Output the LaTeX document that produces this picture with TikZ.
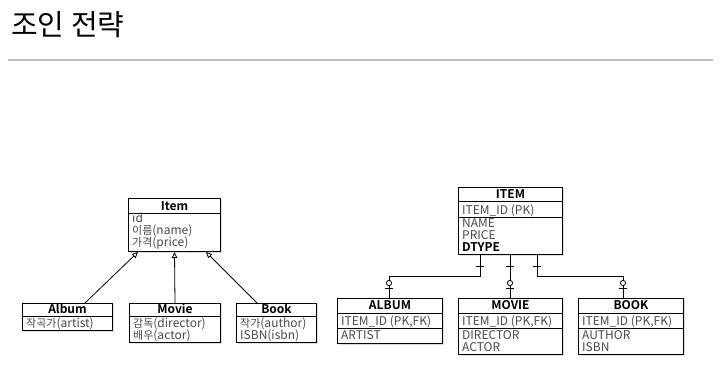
\documentclass[tikz,border=0pt]{standalone}
\usepackage{fontspec}
\setmainfont{Noto Sans CJK KR}[BoldFont={Noto Sans CJK KR Bold}]
\newcommand\kr[1]{{\fontsize{11}{12}\selectfont #1}}
\usetikzlibrary{arrows.meta,calc,shadows}
\definecolor{attrgray}{HTML}{4A4A4A}
\definecolor{rulegray}{HTML}{BDBDBD}
\tikzset{
  umlbox/.style={draw=black, line width=1pt, anchor=north west, inner sep=0pt, fill=white,
    drop shadow={shadow xshift=1.2pt, shadow yshift=-1.2pt, opacity=0.25}},
  hdr/.style={font=\bfseries\fontsize{12}{12}\selectfont, anchor=base, inner sep=0pt},
  attr/.style={font=\fontsize{12}{12}\selectfont, text=attrgray, anchor=base west, inner sep=0pt},
  attrb/.style={font=\bfseries\fontsize{12}{12}\selectfont, text=black, anchor=base west, inner sep=0pt},
  divl/.style={draw=black, line width=0.8pt},
  inh/.style={draw=black, line width=0.8pt, -{Triangle[open,length=6pt,width=5.5pt]}},
  rel/.style={draw=black, line width=0.8pt},
}
\begin{document}
\begin{tikzpicture}[x=1pt,y=-1pt]
\useasboundingbox (0,0) rectangle (721,389);

% title and rule
\node[anchor=base west, inner sep=0pt, font=\fontsize{29}{32}\selectfont] (title) at (11,35) {조인 전략};
\coordinate (ruleL) at (8,60);
\coordinate (ruleR) at (713,60);
\draw[rulegray, line width=1.2pt] (ruleL) -- (ruleR);

% ---------- left: class diagram ----------
\node[umlbox, minimum width=92pt, minimum height=53pt] (item) at (128,198) {};
\node[hdr] (itemh) at ($(item.north)+(0,12)$) {Item};
\draw[divl] ($(item.north west)+(0,15)$) -- ($(item.north east)+(0,15)$);
\node[attr] (item1) at ($(item.north west)+(4,24)$) {id};
\node[attr] (item2) at ($(item.north west)+(4,36)$) {\kr{이름}(name)};
\node[attr] (item3) at ($(item.north west)+(4,48)$) {\kr{가격}(price)};

\node[umlbox, minimum width=90pt, minimum height=27pt] (album) at (22,303) {};
\node[hdr] (albumh) at ($(album.north)+(0,10)$) {Album};
\draw[divl] ($(album.north west)+(0,13)$) -- ($(album.north east)+(0,13)$);
\node[attr] (album1) at ($(album.north west)+(4,24)$) {\kr{작곡가}(artist)};

\node[umlbox, minimum width=91pt, minimum height=39pt] (movie) at (129,303) {};
\node[hdr] (movieh) at ($(movie.north)+(0,10)$) {Movie};
\draw[divl] ($(movie.north west)+(0,13)$) -- ($(movie.north east)+(0,13)$);
\node[attr] (movie1) at ($(movie.north west)+(4,24)$) {\kr{감독}(director)};
\node[attr] (movie2) at ($(movie.north west)+(4,36)$) {\kr{배우}(actor)};

\node[umlbox, minimum width=80pt, minimum height=39pt] (book) at (236,303) {};
\node[hdr] (bookh) at ($(book.north)+(0,10)$) {Book};
\draw[divl] ($(book.north west)+(0,13)$) -- ($(book.north east)+(0,13)$);
\node[attr] (book1) at ($(book.north west)+(4,24)$) {\kr{작가}(author)};
\node[attr] (book2) at ($(book.north west)+(4,36)$) {ISBN(isbn)};

\draw[inh] ($(album.north west)+(63,0)$) -- ($(item.south west)+(10,0)$);
\draw[inh] (movie.north) -- (item.south);
\draw[inh] ($(book.north west)+(21,0)$) -- ($(item.south west)+(78,0)$);

% ---------- right: ER diagram ----------
\node[umlbox, minimum width=104pt, minimum height=67pt] (ITEM) at (458,187) {};
\node[hdr] (ITEMh) at ($(ITEM.north)+(0,11)$) {ITEM};
\draw[divl] ($(ITEM.north west)+(0,14)$) -- ($(ITEM.north east)+(0,14)$);
\node[attr] (ITEM1) at ($(ITEM.north west)+(4,27)$) {ITEM\_ID (PK)};
\draw[divl] ($(ITEM.north west)+(0,30)$) -- ($(ITEM.north east)+(0,30)$);
\node[attr] (ITEM2) at ($(ITEM.north west)+(4,40)$) {NAME};
\node[attr] (ITEM3) at ($(ITEM.north west)+(4,52)$) {PRICE};
\node[attrb] (ITEM4) at ($(ITEM.north west)+(4,64)$) {DTYPE};

\node[umlbox, minimum width=105pt, minimum height=45pt] (ALBUM) at (337,298) {};
\node[hdr] (ALBUMh) at ($(ALBUM.north)+(0,11)$) {ALBUM};
\draw[divl] ($(ALBUM.north west)+(0,15)$) -- ($(ALBUM.north east)+(0,15)$);
\node[attr] (ALBUM1) at ($(ALBUM.north west)+(4,27)$) {ITEM\_ID (PK,FK)};
\draw[divl] ($(ALBUM.north west)+(0,30)$) -- ($(ALBUM.north east)+(0,30)$);
\node[attr] (ALBUM2) at ($(ALBUM.north west)+(4,41)$) {ARTIST};

\node[umlbox, minimum width=104pt, minimum height=56pt] (MOVIE) at (458,298) {};
\node[hdr] (MOVIEh) at ($(MOVIE.north)+(0,11)$) {MOVIE};
\draw[divl] ($(MOVIE.north west)+(0,15)$) -- ($(MOVIE.north east)+(0,15)$);
\node[attr] (MOVIE1) at ($(MOVIE.north west)+(4,27)$) {ITEM\_ID (PK,FK)};
\draw[divl] ($(MOVIE.north west)+(0,30)$) -- ($(MOVIE.north east)+(0,30)$);
\node[attr] (MOVIE2) at ($(MOVIE.north west)+(4,41)$) {DIRECTOR};
\node[attr] (MOVIE3) at ($(MOVIE.north west)+(4,53)$) {ACTOR};

\node[umlbox, minimum width=105pt, minimum height=56pt] (BOOK) at (578,298) {};
\node[hdr] (BOOKh) at ($(BOOK.north)+(0,11)$) {BOOK};
\draw[divl] ($(BOOK.north west)+(0,15)$) -- ($(BOOK.north east)+(0,15)$);
\node[attr] (BOOK1) at ($(BOOK.north west)+(4,27)$) {ITEM\_ID (PK,FK)};
\draw[divl] ($(BOOK.north west)+(0,30)$) -- ($(BOOK.north east)+(0,30)$);
\node[attr] (BOOK2) at ($(BOOK.north west)+(4,41)$) {AUTHOR};
\node[attr] (BOOK3) at ($(BOOK.north west)+(4,53)$) {ISBN};

% connection points
\coordinate (s1) at ($(ITEM.south west)+(22,0)$);
\coordinate (s2) at ($(ITEM.south west)+(52,0)$);
\coordinate (s3) at ($(ITEM.south west)+(79,0)$);
\coordinate (t1) at ($(ALBUM.north west)+(52,0)$);
\coordinate (t2) at ($(MOVIE.north west)+(52,0)$);
\coordinate (t3) at ($(BOOK.north west)+(45,0)$);

\draw[rel] (s1) |- ($(t1)+(0,-22)$) -- (t1);
\draw[rel] (s2) -- (t2);
\draw[rel] (s3) |- ($(t3)+(0,-22)$) -- (t3);

\foreach \s in {s1,s2,s3}{
  \draw[rel] ($(\s)+(-4,11)$) -- ($(\s)+(4,11)$);
}
\foreach \t in {t1,t2,t3}{
  \draw[rel] ($(\t)+(-4,-10)$) -- ($(\t)+(4,-10)$);
  \draw[rel, fill=white] ($(\t)+(0,-15)$) circle (2.6pt);
}
\end{tikzpicture}
\end{document}
